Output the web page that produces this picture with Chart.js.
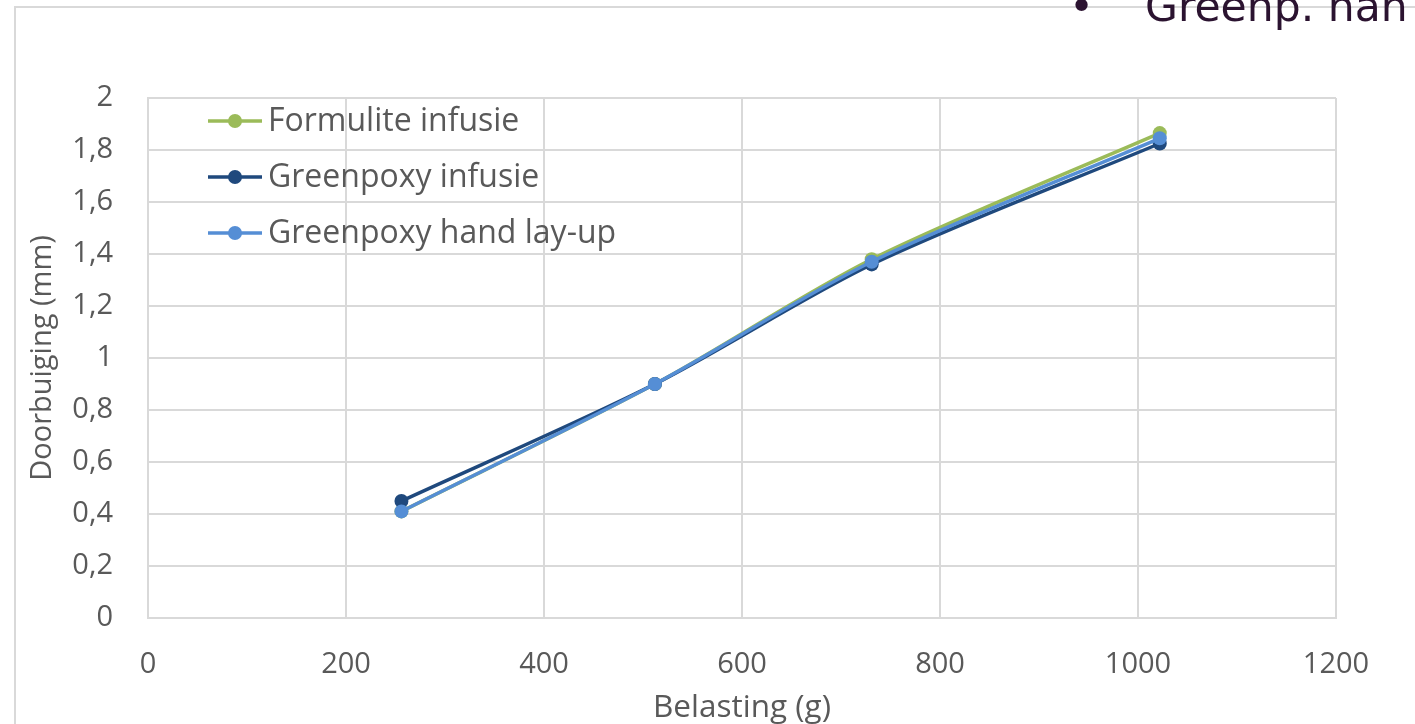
<!DOCTYPE html>
<html>
<head>
<meta charset="utf-8">
<script src="https://cdn.jsdelivr.net/npm/chart.js@4"></script>
<style>
  html, body { margin: 0; padding: 0; background: #ffffff; }
  #wrap { position: relative; width: 1415px; height: 724px; overflow: hidden; background: #fff; }
  #frame { position: absolute; left: 14px; top: 6px; width: 1420px; height: 740px; border-left: 2px solid #d9d9d9; border-top: 2px solid #d9d9d9; box-sizing: border-box; }
  #head { position: absolute; left: 1069px; top: -23px; font-family: "DejaVu Sans", sans-serif; font-size: 42.5px; color: #2b1330; white-space: nowrap; line-height: 60px; }
  #head .b { display: inline-block; width: 76px; }
  canvas { position: absolute; left: 0; top: 0; }
</style>
</head>
<body>
<div id="wrap">
  <div id="frame"></div>
  <canvas id="c" width="1415" height="724"></canvas>
  <div id="head"><span class="b">•</span>Greenp. han</div>
</div>
<script>
const loads = [256, 512, 731, 1022];
const formuliteInfusie = [0.41, 0.90, 1.38, 1.865];
const greenpoxyInfusie = [0.45, 0.90, 1.36, 1.825];
const greenpoxyHandLayUp = [0.41, 0.90, 1.37, 1.845];
const seriesNames = ["Formulite infusie", "Greenpoxy infusie", "Greenpoxy hand lay-up"];
const seriesColors = ["#9bbb59", "#1f497d", "#558ed5"];
const xTitle = "Belasting (g)";
const yTitle = "Doorbuiging (mm)";

const seriesValues = [formuliteInfusie, greenpoxyInfusie, greenpoxyHandLayUp];
const datasets = seriesValues.map((vals, i) => ({
  label: seriesNames[i],
  data: loads.map((x, j) => ({ x: x, y: vals[j] })),
  borderColor: seriesColors[i],
  backgroundColor: seriesColors[i],
  borderWidth: 3.5,
  pointRadius: 7,
  pointHoverRadius: 7,
  pointBorderWidth: 0,
  tension: 0.3,
  order: 3 - i,
  fill: false
}));

const fontFam = '"Open Sans", sans-serif';
const textColor = '#595959';
const gridColor = '#d9d9d9';

const legendPlugin = {
  id: 'insideLegend',
  afterDraw(chart) {
    const ctx = chart.ctx;
    const a = chart.chartArea;
    ctx.save();
    ctx.font = '32px ' + fontFam;
    ctx.textBaseline = 'middle';
    ctx.textAlign = 'left';
    chart.data.datasets.forEach((ds, i) => {
      const y = a.top + 23 + i * 56;
      const x0 = a.left + 60;
      ctx.strokeStyle = ds.borderColor;
      ctx.lineWidth = 3.5;
      ctx.beginPath();
      ctx.moveTo(x0, y);
      ctx.lineTo(x0 + 54, y);
      ctx.stroke();
      ctx.fillStyle = ds.borderColor;
      ctx.beginPath();
      ctx.arc(x0 + 27, y, 7, 0, Math.PI * 2);
      ctx.fill();
      ctx.fillStyle = textColor;
      ctx.fillText(ds.label, x0 + 60, y + 1);
    });
    ctx.restore();
  }
};

new Chart(document.getElementById('c'), {
  type: 'line',
  data: { datasets: datasets },
  options: {
    responsive: false,
    animation: false,
    events: [],
    layout: { padding: { left: 0, top: 98, right: 79, bottom: 0 } },
    plugins: { legend: { display: false }, tooltip: { enabled: false } },
    scales: {
      x: {
        type: 'linear',
        min: 0, max: 1200,
        ticks: { stepSize: 200, padding: 29, color: textColor, font: { family: fontFam, size: 29 },
          callback: v => String(v) },
        grid: { color: gridColor, lineWidth: 2, drawTicks: false },
        border: { color: gridColor, width: 2 },
        title: { display: true, text: xTitle, color: textColor, font: { family: fontFam, size: 31.5 }, padding: { top: 0, bottom: -3 } },
        afterFit(s) { s.height = 106; }
      },
      y: {
        min: 0, max: 2,
        ticks: {
          stepSize: 0.2, padding: 35, color: textColor, font: { family: fontFam, size: 29 },
          callback: v => String(Number(v.toFixed(1))).replace('.', ',')
        },
        grid: { color: gridColor, lineWidth: 2, drawTicks: false },
        border: { color: gridColor, width: 2 },
        title: { display: true, text: yTitle, color: textColor, font: { family: fontFam, size: 29 }, padding: { top: 25, bottom: 0 } },
        afterFit(s) { s.width = 148; }
      }
    }
  },
  plugins: [legendPlugin]
});
</script>
</body>
</html>
